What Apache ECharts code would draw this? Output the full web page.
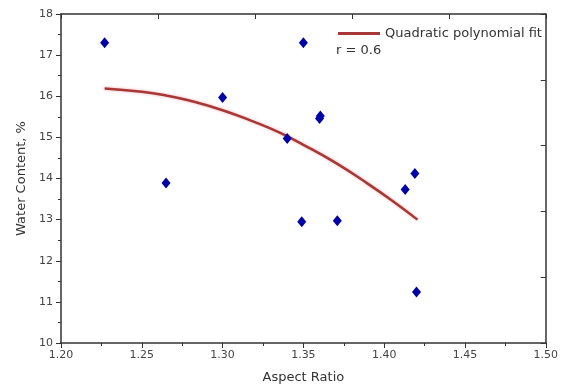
<!DOCTYPE html>
<html><head><meta charset="utf-8">
<script src="https://cdn.jsdelivr.net/npm/echarts@6/dist/echarts.min.js"></script>
<style>html,body{margin:0;padding:0;background:#fff}#c{width:561px;height:392px}</style>
</head><body><div id="c"></div>
<script>
// Measured points: Aspect Ratio vs Water Content (%)
const aspectRatio = [1.227, 1.265, 1.300, 1.350, 1.360, 1.3605, 1.340, 1.419, 1.413, 1.349, 1.371, 1.420];
const waterContent = [17.30, 13.89, 15.97, 17.30, 15.46, 15.52, 14.97, 14.12, 13.73, 12.95, 12.97, 11.24];
// Quadratic polynomial fit curve
const fitX = [1.227, 1.25, 1.265, 1.28, 1.30, 1.32, 1.335, 1.35, 1.37, 1.39, 1.405, 1.4206];
const fitY = [16.19, 16.11, 16.02, 15.89, 15.66, 15.37, 15.12, 14.82, 14.38, 13.87, 13.46, 13.00];
const xTicks = ['1.20','1.25','1.30','1.35','1.40','1.45','1.50'];

const chart = echarts.init(document.getElementById('c'), null, {renderer:'canvas'});
const font = 'DejaVu Sans';
const axColor = '#333';
chart.setOption({
  animation:false,
  backgroundColor:'#fff',
  grid:{left:61, right:14, top:14, bottom:49, containLabel:false},
  legend:{
    left:333, top:22, itemWidth:42, itemHeight:3, itemGap:5,
    data:[{name:'Quadratic polynomial fit', icon:'rect'}],
    textStyle:{fontFamily:font, fontSize:13, color:'#333'}
  },
  graphic:[{type:'text', left:336, top:44, style:{text:'r = 0.6', font:'13px "DejaVu Sans"', fill:'#333'}}],
  xAxis:[{
    type:'value', min:1.2, max:1.5, interval:0.05,
    name:'Aspect Ratio', nameLocation:'middle', nameGap:28,
    nameTextStyle:{fontFamily:font, fontSize:13, color:'#333'},
    axisLine:{show:true, onZero:false, lineStyle:{color:axColor, width:1.5}},
    axisTick:{show:true, inside:false, length:5, lineStyle:{color:axColor}},
    minorTick:{show:true, splitNumber:2, length:3, lineStyle:{color:axColor}},
    axisLabel:{fontFamily:font, fontSize:11, color:'#444', margin:7,
      formatter:(v)=>{const s=v.toFixed(2); return xTicks.includes(s)?s:'';}},
    splitLine:{show:false}
  },{
    type:'value', position:'top', min:0, max:5, interval:1,
    axisLine:{show:true, onZero:false, lineStyle:{color:axColor, width:1.5}},
    axisTick:{show:true, inside:true, length:5, lineStyle:{color:axColor}},
    axisLabel:{show:false}, splitLine:{show:false}
  }],
  yAxis:[{
    type:'value', min:10, max:18, interval:1,
    name:'Water Content, %', nameLocation:'middle', nameGap:32, nameRotate:90,
    nameTextStyle:{fontFamily:font, fontSize:13, color:'#333'},
    axisLine:{show:true, onZero:false, lineStyle:{color:axColor, width:1.5}},
    axisTick:{show:true, inside:false, length:5, lineStyle:{color:axColor}},
    minorTick:{show:true, splitNumber:2, length:3, lineStyle:{color:axColor}},
    axisLabel:{fontFamily:font, fontSize:11, color:'#444', margin:8},
    splitLine:{show:false}
  },{
    type:'value', position:'right', min:0, max:5, interval:1,
    axisLine:{show:true, onZero:false, lineStyle:{color:axColor, width:1.5}},
    axisTick:{show:true, inside:true, length:5, lineStyle:{color:axColor}},
    axisLabel:{show:false}, splitLine:{show:false}
  }],
  series:[{
    name:'Quadratic polynomial fit', type:'line', smooth:true, showSymbol:false,
    xAxisIndex:0, yAxisIndex:0,
    data: fitX.map((x,i)=>[x, fitY[i]]),
    lineStyle:{color:'#a83838', width:2.5, shadowColor:'rgba(230,120,120,0.6)', shadowBlur:3},
    itemStyle:{color:'#a83838'}, z:2
  },{
    name:'data', type:'scatter', symbol:'diamond', symbolSize:[9,11],
    xAxisIndex:0, yAxisIndex:0,
    data: aspectRatio.map((x,i)=>[x, waterContent[i]]),
    itemStyle:{color:'#0000a8', opacity:1}, z:3
  }]
});
</script></body></html>
